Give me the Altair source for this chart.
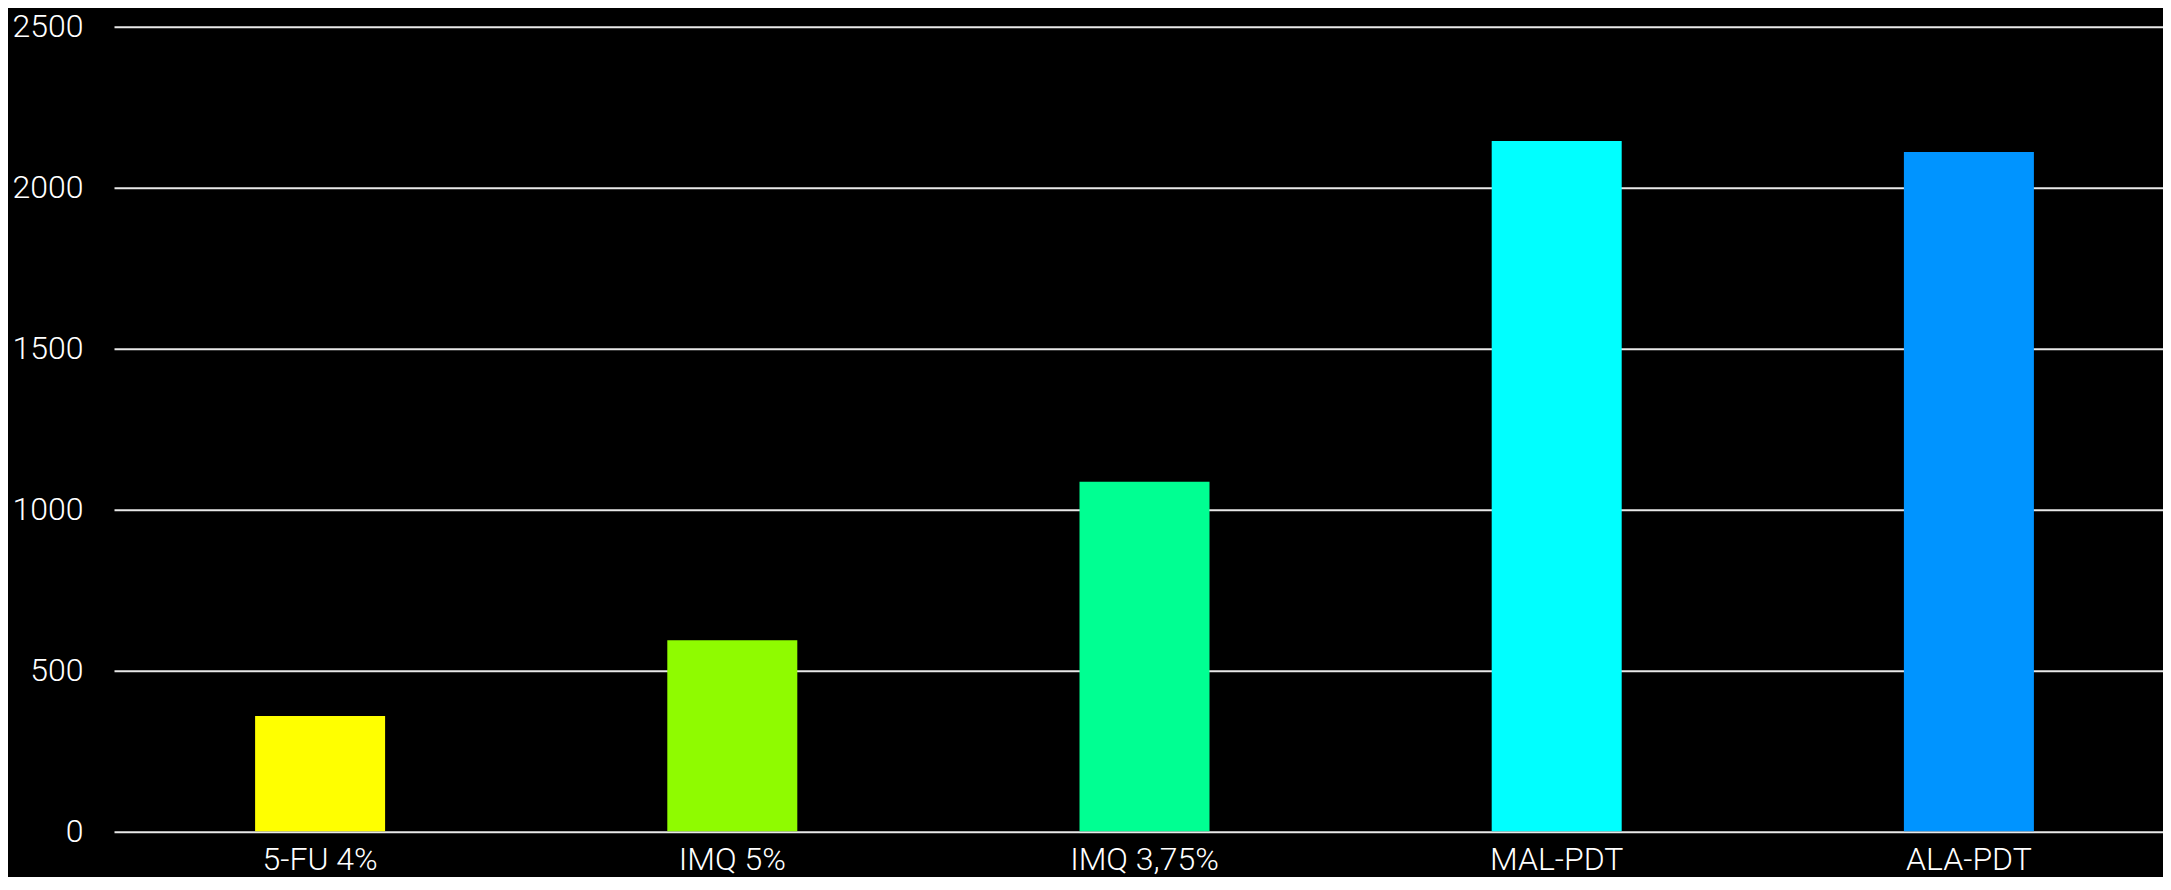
import altair as alt
import pandas as pd

categories = ["5-FU 4%", "IMQ 5%", "IMQ 3,75%", "MAL-PDT", "ALA-PDT"]
values = [358, 594, 1086, 2145, 2111]
colors = ["#FFFF00", "#8FFB00", "#00FF92", "#00FFFF", "#0094FF"]
y_ticks = [0, 500, 1000, 1500, 2000, 2500]

df = pd.DataFrame({"cat": categories, "val": values})

FONT = "Roboto"

chart = alt.Chart(df).mark_bar(size=130).encode(
    x=alt.X("cat:N", sort=categories, title=None,
            scale=alt.Scale(paddingInner=0, paddingOuter=0, range=[0, 2061]),
            axis=alt.Axis(labelAngle=0, domain=False, ticks=False, tickSize=0,
                          labelPadding=38, labelBaseline="alphabetic",
                          labelFontSize=32, labelFont=FONT, labelFontWeight=300,
                          labelColor="#FFFFFF", grid=False)),
    y=alt.Y("val:Q", title=None,
            scale=alt.Scale(domain=[0, 2500], nice=False),
            axis=alt.Axis(values=y_ticks, format="d", domain=False, ticks=False,
                          tickSize=0, labelPadding=31, labelFontSize=32,
                          labelFont=FONT, labelFontWeight=300,
                          labelColor="#FFFFFF", labelBaseline="middle",
                          grid=True, gridColor="#E8E8E8", gridWidth=2,
                          gridOpacity=1)),
    color=alt.Color("cat:N", scale=alt.Scale(domain=categories, range=colors),
                    legend=None),
).properties(
    width=2049,
    height=804.6,
    background="#000000",
    autosize=alt.AutoSizeParams(type="none"),
    padding={"left": 106, "top": 18.7, "right": 0, "bottom": 45.7},
).configure_view(stroke=None)

chart.save("out.html", embed_options={"renderer": "svg", "actions": False})
